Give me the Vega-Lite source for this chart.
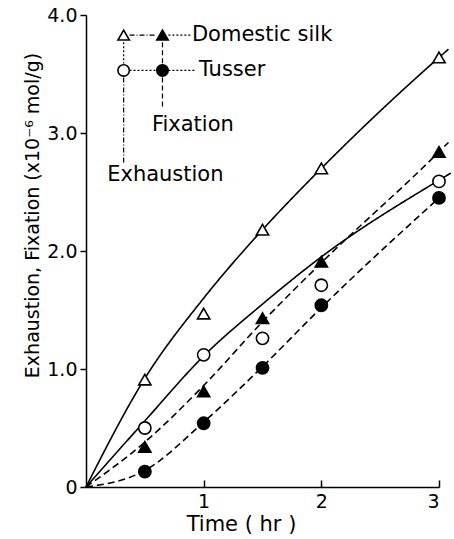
{
  "$schema": "https://vega.github.io/schema/vega-lite/v6.json",
  "autosize": "none",
  "width": 353,
  "height": 472,
  "padding": {"left": 86, "top": 15, "right": 15, "bottom": 52},
  "background": "white",
  "config": {
    "view": {"stroke": null},
    "font": "DejaVu Sans",
    "axis": {
      "domainColor": "black", "domainWidth": 1.5, "tickColor": "black", "tickWidth": 1.5,
      "labelColor": "black", "titleColor": "black", "grid": false,
      "labelFont": "DejaVu Sans", "titleFont": "DejaVu Sans",
      "labelFontSize": 19, "titleFontSize": 19, "titleFontWeight": "normal"
    }
  },
  "resolve": {"scale": {"strokeDash": "independent"}},
  "datasets": {
    "pts": [
      {"t": 0.5, "v": 0.91, "s": "ES"}, {"t": 1, "v": 1.47, "s": "ES"}, {"t": 1.5, "v": 2.18, "s": "ES"}, {"t": 2, "v": 2.7, "s": "ES"}, {"t": 3, "v": 3.64, "s": "ES"},
      {"t": 0.5, "v": 0.5, "s": "ET"}, {"t": 1, "v": 1.12, "s": "ET"}, {"t": 1.5, "v": 1.26, "s": "ET"}, {"t": 2, "v": 1.71, "s": "ET"}, {"t": 3, "v": 2.59, "s": "ET"},
      {"t": 0.5, "v": 0.34, "s": "FS"}, {"t": 1, "v": 0.81, "s": "FS"}, {"t": 1.5, "v": 1.43, "s": "FS"}, {"t": 2, "v": 1.91, "s": "FS"}, {"t": 3, "v": 2.84, "s": "FS"},
      {"t": 0.5, "v": 0.13, "s": "FT"}, {"t": 1, "v": 0.54, "s": "FT"}, {"t": 1.5, "v": 1.01, "s": "FT"}, {"t": 2, "v": 1.54, "s": "FT"}, {"t": 3, "v": 2.45, "s": "FT"}
    ],
    "curves": [
      {"t": 0, "v": 0, "s": "ES", "k": "Exhaustion"}, {"t": 0.5, "v": 0.92, "s": "ES", "k": "Exhaustion"}, {"t": 1, "v": 1.6, "s": "ES", "k": "Exhaustion"}, {"t": 1.5, "v": 2.18, "s": "ES", "k": "Exhaustion"}, {"t": 2, "v": 2.7, "s": "ES", "k": "Exhaustion"}, {"t": 3, "v": 3.64, "s": "ES", "k": "Exhaustion"}, {"t": 3.08, "v": 3.71, "s": "ES", "k": "Exhaustion"},
      {"t": 0, "v": 0, "s": "ET", "k": "Exhaustion"}, {"t": 0.5, "v": 0.56, "s": "ET", "k": "Exhaustion"}, {"t": 1, "v": 1.11, "s": "ET", "k": "Exhaustion"}, {"t": 1.5, "v": 1.55, "s": "ET", "k": "Exhaustion"}, {"t": 2, "v": 1.95, "s": "ET", "k": "Exhaustion"}, {"t": 3, "v": 2.6, "s": "ET", "k": "Exhaustion"}, {"t": 3.1, "v": 2.66, "s": "ET", "k": "Exhaustion"},
      {"t": 0, "v": 0, "s": "FS", "k": "Fixation"}, {"t": 0.5, "v": 0.38, "s": "FS", "k": "Fixation"}, {"t": 1, "v": 0.86, "s": "FS", "k": "Fixation"}, {"t": 1.5, "v": 1.4, "s": "FS", "k": "Fixation"}, {"t": 2, "v": 1.9, "s": "FS", "k": "Fixation"}, {"t": 3, "v": 2.84, "s": "FS", "k": "Fixation"}, {"t": 3.08, "v": 2.92, "s": "FS", "k": "Fixation"},
      {"t": 0, "v": 0, "s": "FT", "k": "Fixation"}, {"t": 0.5, "v": 0.14, "s": "FT", "k": "Fixation"}, {"t": 1, "v": 0.55, "s": "FT", "k": "Fixation"}, {"t": 1.5, "v": 1.02, "s": "FT", "k": "Fixation"}, {"t": 2, "v": 1.52, "s": "FT", "k": "Fixation"}, {"t": 3, "v": 2.45, "s": "FT", "k": "Fixation"}
    ],
    "legpts": [
      {"t": 0.32, "v": 3.83, "s": "ES"}, {"t": 0.65, "v": 3.83, "s": "FS"},
      {"t": 0.32, "v": 3.53, "s": "ET"}, {"t": 0.65, "v": 3.53, "s": "FT"}
    ],
    "legrules": [
      {"t": 0.37, "t2": 0.6, "v": 3.83, "v2": 3.83, "st": "dashdot"},
      {"t": 0.7, "t2": 0.89, "v": 3.83, "v2": 3.83, "st": "dot"},
      {"t": 0.37, "t2": 0.6, "v": 3.53, "v2": 3.53, "st": "dot"},
      {"t": 0.7, "t2": 0.93, "v": 3.53, "v2": 3.53, "st": "dot"},
      {"t": 0.32, "t2": 0.32, "v": 3.77, "v2": 3.59, "st": "dot"},
      {"t": 0.32, "t2": 0.32, "v": 3.47, "v2": 2.74, "st": "dashdot"},
      {"t": 0.65, "t2": 0.65, "v": 3.77, "v2": 3.59, "st": "dash"},
      {"t": 0.65, "t2": 0.65, "v": 3.47, "v2": 3.22, "st": "dash"}
    ],
    "legtext": [
      {"t": 0.9, "v": 3.83, "label": "Domestic silk"},
      {"t": 0.96, "v": 3.53, "label": "Tusser"},
      {"t": 0.56, "v": 3.07, "label": "Fixation"},
      {"t": 0.18, "v": 2.64, "label": "Exhaustion"}
    ]
  },
  "layer": [
    {
      "data": {"name": "curves"},
      "mark": {"type": "line", "interpolate": "monotone", "color": "black", "strokeWidth": 1.6},
      "encoding": {
        "x": {"field": "t", "type": "quantitative", "scale": {"domain": [0, 3]},
              "axis": {"values": [1, 2, 3], "format": "d", "tickSize": -7, "labelPadding": 12, "title": "Time ( hr )", "titleFontSize": 21, "titleX": 155, "titlePadding": 2}},
        "y": {"field": "v", "type": "quantitative", "scale": {"domain": [0, 4]},
              "axis": {"values": [0, 1, 2, 3, 4], "tickSize": 6, "labelPadding": 3,
                       "labelExpr": "datum.value == 0 ? '0' : format(datum.value, '.1f')",
                       "title": "Exhaustion, Fixation (x10⁻⁶ mol/g)", "titleY": 200, "titlePadding": 4}},
        "detail": {"field": "s"},
        "strokeDash": {"field": "k", "type": "nominal", "scale": {"domain": ["Exhaustion", "Fixation"], "range": [[1, 0], [7, 4]]}, "legend": null}
      }
    },
    {
      "data": {"name": "legrules"},
      "mark": {"type": "rule", "color": "black", "strokeWidth": 1.2},
      "encoding": {
        "x": {"field": "t", "type": "quantitative"},
        "x2": {"field": "t2"},
        "y": {"field": "v", "type": "quantitative"},
        "y2": {"field": "v2"},
        "strokeDash": {"field": "st", "type": "nominal", "scale": {"domain": ["dot", "dash", "dashdot"], "range": [[2, 2], [5, 3], [5, 2, 1, 2]]}, "legend": null}
      }
    },
    {
      "data": {"name": "pts"},
      "mark": {"type": "point", "stroke": "black", "strokeWidth": 1.6, "opacity": 1},
      "encoding": {
        "x": {"field": "t", "type": "quantitative"},
        "y": {"field": "v", "type": "quantitative"},
        "shape": {"field": "s", "type": "nominal", "scale": {"domain": ["ES", "ET", "FS", "FT"], "range": ["triangle-up", "circle", "triangle-up", "circle"]}, "legend": null},
        "fill": {"field": "s", "type": "nominal", "scale": {"domain": ["ES", "ET", "FS", "FT"], "range": ["white", "white", "black", "black"]}, "legend": null},
        "size": {"value": 150}
      }
    },
    {
      "data": {"name": "legpts"},
      "mark": {"type": "point", "stroke": "black", "strokeWidth": 1.6, "opacity": 1},
      "encoding": {
        "x": {"field": "t", "type": "quantitative"},
        "y": {"field": "v", "type": "quantitative"},
        "shape": {"field": "s", "type": "nominal", "scale": {"domain": ["ES", "ET", "FS", "FT"], "range": ["triangle-up", "circle", "triangle-up", "circle"]}, "legend": null},
        "fill": {"field": "s", "type": "nominal", "scale": {"domain": ["ES", "ET", "FS", "FT"], "range": ["white", "white", "black", "black"]}, "legend": null},
        "size": {"value": 130}
      }
    },
    {
      "data": {"name": "legtext"},
      "mark": {"type": "text", "align": "left", "baseline": "middle", "font": "DejaVu Sans", "fontSize": 21, "color": "black"},
      "encoding": {
        "x": {"field": "t", "type": "quantitative"},
        "y": {"field": "v", "type": "quantitative"},
        "text": {"field": "label"}
      }
    }
  ]
}
